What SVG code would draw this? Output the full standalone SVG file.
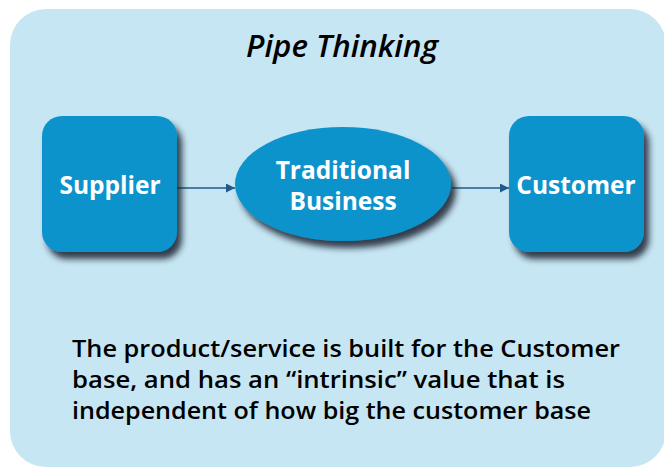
<svg xmlns="http://www.w3.org/2000/svg" width="664" height="469" viewBox="0 0 664 469">
<style>
.node{fill:#0A93CC;filter:url(#sh);}
.lbl{font-family:"Open Sans","DejaVu Sans",sans-serif;font-weight:700;font-size:24.5px;fill:#fff;text-anchor:middle;}
.edge{stroke:#1F5A8C;stroke-width:1.5;fill:none;marker-end:url(#ah);}
.body{font-family:"Open Sans","DejaVu Sans",sans-serif;font-weight:600;font-size:24px;fill:#000;}
</style>
<defs>
<filter id="sh" x="-20%" y="-20%" width="150%" height="150%">
<feDropShadow dx="5" dy="7" stdDeviation="3" flood-color="#16242e" flood-opacity="0.85"/>
</filter>
<marker id="ah" viewBox="0 0 10 10" refX="10" refY="5" markerWidth="9" markerHeight="9" markerUnits="userSpaceOnUse" orient="auto">
<path d="M0,0 L10,5 L0,10 z" fill="#1F5A8C"/>
</marker>
</defs>
<rect x="10" y="9" width="656" height="458" rx="36" fill="#C6E6F3"/>
<text x="342" y="57" font-family="'Open Sans','DejaVu Sans',sans-serif" font-style="italic" font-weight="600" font-size="30" text-anchor="middle" textLength="192" lengthAdjust="spacingAndGlyphs" fill="#000">Pipe Thinking</text>
<g id="connectors">
<line class="edge" x1="177" y1="188" x2="235" y2="188"/>
<line class="edge" x1="452" y1="188" x2="509" y2="188"/>
</g>
<g id="supplier">
<rect class="node" x="42" y="116" width="135" height="136" rx="20"/>
<text class="lbl" x="110" y="194">Supplier</text>
</g>
<g id="traditional">
<ellipse class="node" cx="343" cy="184" rx="108" ry="57"/>
<text class="lbl" x="343" y="179">Traditional</text>
<text class="lbl" x="343" y="210">Business</text>
</g>
<g id="customer">
<rect class="node" x="509" y="116" width="135" height="136" rx="20"/>
<text class="lbl" x="576" y="194">Customer</text>
</g>
<g id="note">
<text class="body" x="72" y="357" textLength="548" lengthAdjust="spacingAndGlyphs">The product/service is built for the Customer</text>
<text class="body" x="72" y="388" textLength="493" lengthAdjust="spacingAndGlyphs">base, and has an “intrinsic” value that is</text>
<text class="body" x="72" y="419" textLength="519" lengthAdjust="spacingAndGlyphs">independent of how big the customer base</text>
</g>
</svg>
